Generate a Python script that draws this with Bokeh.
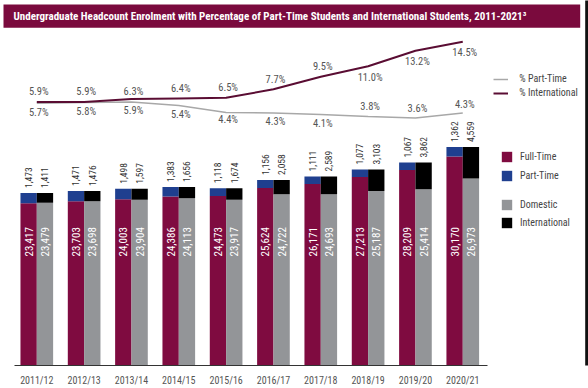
from math import pi
from bokeh.plotting import figure
from bokeh.models import (Range1d, FixedTicker, Legend, LegendItem, Label,
                          BoxAnnotation, ColumnDataSource)
from bokeh.transform import dodge
from bokeh.core.properties import value
from bokeh.embed import file_html
from bokeh.resources import INLINE

# ---------------- data ----------------
years = ["2011/12", "2012/13", "2013/14", "2014/15", "2015/16",
         "2016/17", "2017/18", "2018/19", "2019/20", "2020/21"]
full_time = [23417, 23703, 24003, 24386, 24473, 25624, 26171, 27213, 28209, 30170]
part_time = [1473, 1471, 1498, 1383, 1118, 1156, 1111, 1077, 1067, 1362]
domestic = [23479, 23698, 23904, 24113, 23917, 24722, 24693, 25187, 25414, 26973]
international = [1411, 1476, 1597, 1656, 1674, 2058, 2589, 3103, 3862, 4559]
pct_part_time = [5.7, 5.8, 5.9, 5.4, 4.4, 4.3, 4.1, 3.8, 3.6, 4.3]
pct_international = [5.9, 5.9, 6.3, 6.4, 6.5, 7.7, 9.5, 11.0, 13.2, 14.5]
title = ("Undergraduate Headcount Enrolment with Percentage of Part-Time Students "
         "and International Students, 2011-2021\u00b3")

# ---------------- style / layout ----------------
FONT = "Roboto Condensed"
MAROON = "#7f0b40"
BLUE = "#1f3f8f"
GRAY = "#939598"
BLACK = "#000000"
TITLE_BG = "#7a0a3d"
INT_LINE = "#5a0d33"
PT_LINE = "#a8a8a8"

W, H = 588, 388
MB = 22             # bottom border for the axis
FB = H - MB         # frame bottom (px from top)
XS = 47.33          # px per category
FIRST = 36.3        # px of first category centre
X0 = -FIRST / XS
X1 = X0 + W / XS
YS = 0.00695        # px per student
PS = 7.02           # px per percentage point
PZ = 143.1          # px (from top) of 0 %
BW = 0.345          # bar width in category units

# label offsets (px, positive = down)
int_off = [-10, -10, -8, -10, -10, -10, -10, 11, 11, 11]
pt_off = [9, 9, 9, 9, 7, 8, 9, -10, -10, -9]

idx = list(range(len(years)))
src = ColumnDataSource(dict(
    x=idx,
    ft=full_time, pt=part_time,
    ftpt=[a + b for a, b in zip(full_time, part_time)],
    dom=domestic, intl=international,
    domintl=[a + b for a, b in zip(domestic, international)],
    ft_lbl=[f"{v:,}" for v in full_time],
    pt_lbl=[f"{v:,}" for v in part_time],
    dom_lbl=[f"{v:,}" for v in domestic],
    intl_lbl=[f"{v:,}" for v in international],
    ppt=pct_part_time, pint=pct_international,
    ppt_lbl=[f"{v:.1f}%" for v in pct_part_time],
    pint_lbl=[f"{v:.1f}%" for v in pct_international],
    ppt_off=pt_off, pint_off=int_off,
))

p = figure(width=W, height=H, x_range=Range1d(X0, X1), y_range=Range1d(0, FB / YS),
           output_backend="svg", toolbar_location=None, y_axis_location=None,
           min_border_left=0, min_border_right=0, min_border_top=0, min_border_bottom=MB)
p.extra_y_ranges = {"pct": Range1d(-(FB - PZ) / PS, PZ / PS)}
p.xgrid.visible = False
p.ygrid.visible = False
p.outline_line_color = None
p.background_fill_color = "white"
p.border_fill_color = "white"

# x axis
ax = p.xaxis[0]
ax.ticker = FixedTicker(ticks=idx)
ax.major_label_overrides = {i: y for i, y in zip(idx, years)}
ax.bounds = (-0.47, 9.52)
ax.axis_line_color = "#333333"
ax.axis_line_width = 1
ax.major_tick_line_color = None
ax.minor_tick_line_color = None
ax.major_label_standoff = 3
ax.major_label_text_font = FONT
ax.major_label_text_font_size = "10px"
ax.major_label_text_color = "#555555"

# title bar
p.add_layout(BoxAnnotation(left=X0 + 3 / XS, right=X0 + 579.7 / XS,
                           top=(FB - 4) / YS, bottom=(FB - 27.3) / YS,
                           fill_color=TITLE_BG, fill_alpha=1, line_color=None))
p.add_layout(Label(x=X0 + 13 / XS, y=(FB - 15.7) / YS, text=title,
                   text_color="white", text_font=FONT, text_font_style="bold",
                   text_font_size="11px", text_baseline="middle"))
# dark right edge
p.add_layout(BoxAnnotation(left=X0 + 584.7 / XS, right=X1 + 1,
                           top=(FB + 50) / YS, bottom=-50 / YS,
                           fill_color="#111111", fill_alpha=1, line_color=None))

# bars
xl = dodge("x", -BW / 2, range=p.x_range)
xr = dodge("x", BW / 2, range=p.x_range)
r_ft = p.vbar(x=xl, bottom=0, top="ft", width=BW, fill_color=MAROON, line_color=None, source=src)
r_pt = p.vbar(x=xl, bottom="ft", top="ftpt", width=BW, fill_color=BLUE, line_color=None, source=src)
r_dom = p.vbar(x=xr, bottom=0, top="dom", width=BW, fill_color=GRAY, line_color=None, source=src)
r_int = p.vbar(x=xr, bottom="dom", top="domintl", width=BW, fill_color=BLACK, line_color=None, source=src)

# values above bars
for xx, yy, tt in ((xl, "ftpt", "pt_lbl"), (xr, "domintl", "intl_lbl")):
    p.text(x=xx, y=yy, text=tt, source=src, angle=pi / 2, text_align="left",
           text_baseline="middle", y_offset=-5, text_font=value(FONT),
           text_font_size="9.5px", text_color="#333333")
# values inside bars
INNER_Y = (FB - 242) / YS
for xx, tt in ((xl, "ft_lbl"), (xr, "dom_lbl")):
    p.text(x=xx, y=INNER_Y, text=tt, source=src, angle=pi / 2, text_align="center",
           text_baseline="middle", text_font=value(FONT), text_font_size="11px",
           text_color="white")

# percentage lines
r_lpt = p.line(x="x", y="ppt", y_range_name="pct", source=src, line_color=PT_LINE, line_width=1.5)
r_lint = p.line(x="x", y="pint", y_range_name="pct", source=src, line_color=INT_LINE, line_width=2)
for yy, tt, oo in (("pint", "pint_lbl", "pint_off"), ("ppt", "ppt_lbl", "ppt_off")):
    p.text(x="x", y=yy, text=tt, y_range_name="pct", source=src, x_offset=2,
           y_offset=oo, text_align="center", text_baseline="middle",
           text_font=value(FONT), text_font_size="10.5px", text_color="#555555")

# legends
common = dict(padding=0, margin=0, border_line_color=None, background_fill_alpha=0,
              label_text_font=FONT, label_text_font_size="10px",
              label_text_color="#444444", label_text_baseline="middle")
leg1 = Legend(items=[LegendItem(label="% Part-Time", renderers=[r_lpt]),
                     LegendItem(label="% International", renderers=[r_lint])],
              location=(493.3, FB - 99.6), glyph_width=15, glyph_height=12, label_height=12,
              spacing=2, label_standoff=11, **common)
leg2 = Legend(items=[LegendItem(label="Full-Time", renderers=[r_ft]),
                     LegendItem(label="Part-Time", renderers=[r_pt])],
              location=(500, FB - 183), glyph_width=13, glyph_height=13, label_height=13,
              spacing=6, label_standoff=7, **common)
leg3 = Legend(items=[LegendItem(label="Domestic", renderers=[r_dom]),
                     LegendItem(label="International", renderers=[r_int])],
              location=(500, FB - 230.3), glyph_width=13, glyph_height=13, label_height=13,
              spacing=5, label_standoff=7, **common)
for lg in (leg1, leg2, leg3):
    p.add_layout(lg, "center")

open("out.html", "w").write(file_html(p, INLINE))
